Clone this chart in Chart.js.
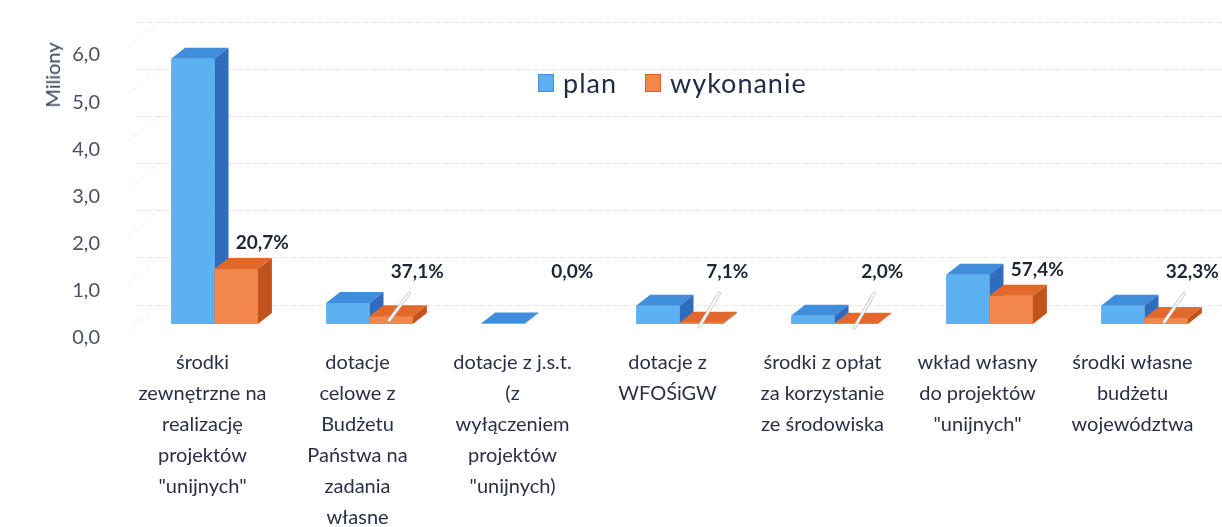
<!DOCTYPE html>
<html lang="pl">
<head>
<meta charset="utf-8">
<title>plan / wykonanie</title>
<script src="https://cdn.jsdelivr.net/npm/chart.js@4.4.1/dist/chart.umd.min.js"></script>
<style>
  html, body { margin: 0; padding: 0; background: #fff; }
  .wrap { position: relative; width: 1222px; height: 527px; font-family: Lato, "Open Sans", sans-serif; }
  canvas { position: absolute; left: 0; top: 0; }
  .ytitle { position: absolute; left: 52px; top: 75px; transform: translate(-50%, -50%) rotate(-90deg);
            font-size: 20px; color: #3b4358; white-space: nowrap; }
  .legend { position: absolute; left: 538px; top: 66px; display: flex; gap: 28px; font-size: 27px;
            letter-spacing: 1px; color: #1f2a44; }
  .legend span { display: inline-flex; align-items: center; }
  .legend i { display: inline-block; width: 14px; height: 16px; margin-right: 9px; border: 1px solid; }
</style>
</head>
<body>
<div class="wrap">
  <canvas id="chart" width="1222" height="527"></canvas>
  <div class="ytitle">Miliony</div>
  <div class="legend" id="legend"></div>
</div>
<script>
// kategorie (etykiety osi X, wielowierszowe)
const categories = [
  ['środki', 'zewnętrzne na', 'realizację', 'projektów', '"unijnych"'],
  ['dotacje', 'celowe z', 'Budżetu', 'Państwa na', 'zadania', 'własne'],
  ['dotacje z j.s.t.', '(z', 'wyłączeniem', 'projektów', '"unijnych)'],
  ['dotacje z', 'WFOŚiGW'],
  ['środki z opłat', 'za korzystanie', 'ze środowiska'],
  ['wkład własny', 'do projektów', '"unijnych"'],
  ['środki własne', 'budżetu', 'województwa']
];
// wartości w mln zł
const planValues = [5.55, 0.44, 0.01, 0.38, 0.17, 1.03, 0.38];
const wykonanieValues = [1.149, 0.163, 0, 0.027, 0.0034, 0.591, 0.123];
// procent wykonania
const percentLabels = ['20,7%', '37,1%', '0,0%', '7,1%', '2,0%', '57,4%', '32,3%'];
const yTicks = [0, 1, 2, 3, 4, 5, 6];

const blue = { front: '#5cb1f3', edge: '#3f92e0', top: '#3f8ddb', side: '#2f6cbc' };
const orange = { front: '#f3864a', edge: '#e0602a', top: '#e2682c', side: '#c2531b' };
const DX = 14, DY = -11;

function drawFaces(ctx, p, c, front) {
  const l = p.x - p.width / 2, r = p.x + p.width / 2;
  if (front) {
    ctx.fillStyle = c.front;
    ctx.fillRect(l, p.y, p.width, p.base - p.y);
  }
  ctx.fillStyle = c.top;
  ctx.beginPath();
  ctx.moveTo(l, p.y); ctx.lineTo(l + DX, p.y + DY); ctx.lineTo(r + DX, p.y + DY); ctx.lineTo(r, p.y);
  ctx.closePath(); ctx.fill();
  ctx.fillStyle = c.side;
  ctx.beginPath();
  ctx.moveTo(r, p.y); ctx.lineTo(r + DX, p.y + DY); ctx.lineTo(r + DX, p.base + DY); ctx.lineTo(r, p.base);
  ctx.closePath(); ctx.fill();
}

// boki i góra słupków "3D" (plan, potem wykonanie przed nim)
const depthPlugin = {
  id: 'depth',
  afterDatasetsDraw(chart) {
    const ctx = chart.ctx;
    const m0 = chart.getDatasetMeta(0), m1 = chart.getDatasetMeta(1);
    ctx.save();
    categories.forEach((_, i) => {
      if (planValues[i] > 0) drawFaces(ctx, m0.data[i].getProps(['x', 'y', 'base', 'width'], true), blue, false);
      if (wykonanieValues[i] > 0) drawFaces(ctx, m1.data[i].getProps(['x', 'y', 'base', 'width'], true), orange, true);
    });
    ctx.restore();
  }
};

// etykiety procentowe + linie odniesienia
const pctPlugin = {
  id: 'pct',
  afterDatasetsDraw(chart) {
    const ctx = chart.ctx;
    const yf = chart.scales.yf;
    const meta = chart.getDatasetMeta(1);
    const cap = yf.getPixelForValue(1.1);
    ctx.save();
    meta.data.forEach((el, i) => {
      const lx = el.x + 26;
      const ly = Math.min(el.y - 26, cap);
      if (wykonanieValues[i] > 0 && el.y - ly > 32) {
        ctx.lineCap = 'round';
        ctx.strokeStyle = '#c4c8cf'; ctx.lineWidth = 3.5;
        ctx.beginPath(); ctx.moveTo(lx - 8, ly + 22); ctx.lineTo(el.x - 2, el.y + 4); ctx.stroke();
        ctx.strokeStyle = '#ffffff'; ctx.lineWidth = 1.8;
        ctx.beginPath(); ctx.moveTo(lx - 8, ly + 22); ctx.lineTo(el.x - 2, el.y + 4); ctx.stroke();
      }
      ctx.fillStyle = '#1f2535';
      ctx.font = 'bold 19px Lato';
      ctx.textAlign = 'center';
      ctx.textBaseline = 'middle';
      ctx.fillText(percentLabels[i], lx, ly);
    });
    ctx.restore();
  }
};

// skośne linie lewej ściany
const wallPlugin = {
  id: 'wall',
  beforeDatasetsDraw(chart) {
    const ctx = chart.ctx, y = chart.scales.y, a = chart.chartArea;
    ctx.save();
    ctx.strokeStyle = 'rgba(0,0,0,0.08)';
    ctx.lineWidth = 1;
    ctx.setLineDash([5, 3]);
    yTicks.forEach(v => {
      const py = y.getPixelForValue(v);
      ctx.beginPath(); ctx.moveTo(a.left - 10, py + 26); ctx.lineTo(a.left + 22, py); ctx.stroke();
    });
    ctx.restore();
  }
};

const chart = new Chart(document.getElementById('chart'), {
  type: 'bar',
  data: {
    labels: categories,
    datasets: [
      { label: 'plan', data: planValues, backgroundColor: blue.front, borderWidth: 0, yAxisID: 'yf' },
      { label: 'wykonanie', data: wykonanieValues, backgroundColor: orange.front, borderWidth: 0, yAxisID: 'yf' }
    ]
  },
  options: {
    responsive: false,
    animation: false,
    layout: { padding: { left: 70, top: 22, right: 0, bottom: 0 } },
    datasets: { bar: { categoryPercentage: 0.56, barPercentage: 1 } },
    plugins: { legend: { display: false }, tooltip: { enabled: false } },
    scales: {
      x: {
        grid: { display: false },
        border: { display: false },
        afterFit: s => { s.height = 188; s.paddingLeft = 0; s.paddingRight = 0; },
        ticks: {
          autoSkip: false, maxRotation: 0, padding: 0, labelOffset: -12,
          color: '#2a3047',
          font: { family: 'Lato', size: 20, lineHeight: '31px' }
        }
      },
      y: {
        position: 'left',
        min: -0.72, max: 6,
        afterBuildTicks: s => { s.ticks = yTicks.map(v => ({ value: v })); },
        afterFit: s => { s.width = 67; s.paddingTop = 0; s.paddingBottom = 0; },
        grid: { color: 'rgba(0,0,0,0.09)', drawTicks: false },
        border: { display: false, dash: [6, 3] },
        ticks: {
          padding: 37, labelOffset: 33, color: '#4a5164',
          font: { family: 'Lato', size: 20 },
          callback: v => v.toFixed(1).replace('.', ',')
        }
      },
      yf: { display: false, min: -0.314, max: 6.318 }
    }
  },
  plugins: [wallPlugin, depthPlugin, pctPlugin]
});

// legenda
const legend = document.getElementById('legend');
chart.data.datasets.forEach((ds, i) => {
  const c = i === 0 ? blue : orange;
  const s = document.createElement('span');
  s.innerHTML = '<i style="background:' + c.front + ';border-color:' + c.edge + '"></i>' + ds.label;
  legend.appendChild(s);
});
</script>
</body>
</html>
